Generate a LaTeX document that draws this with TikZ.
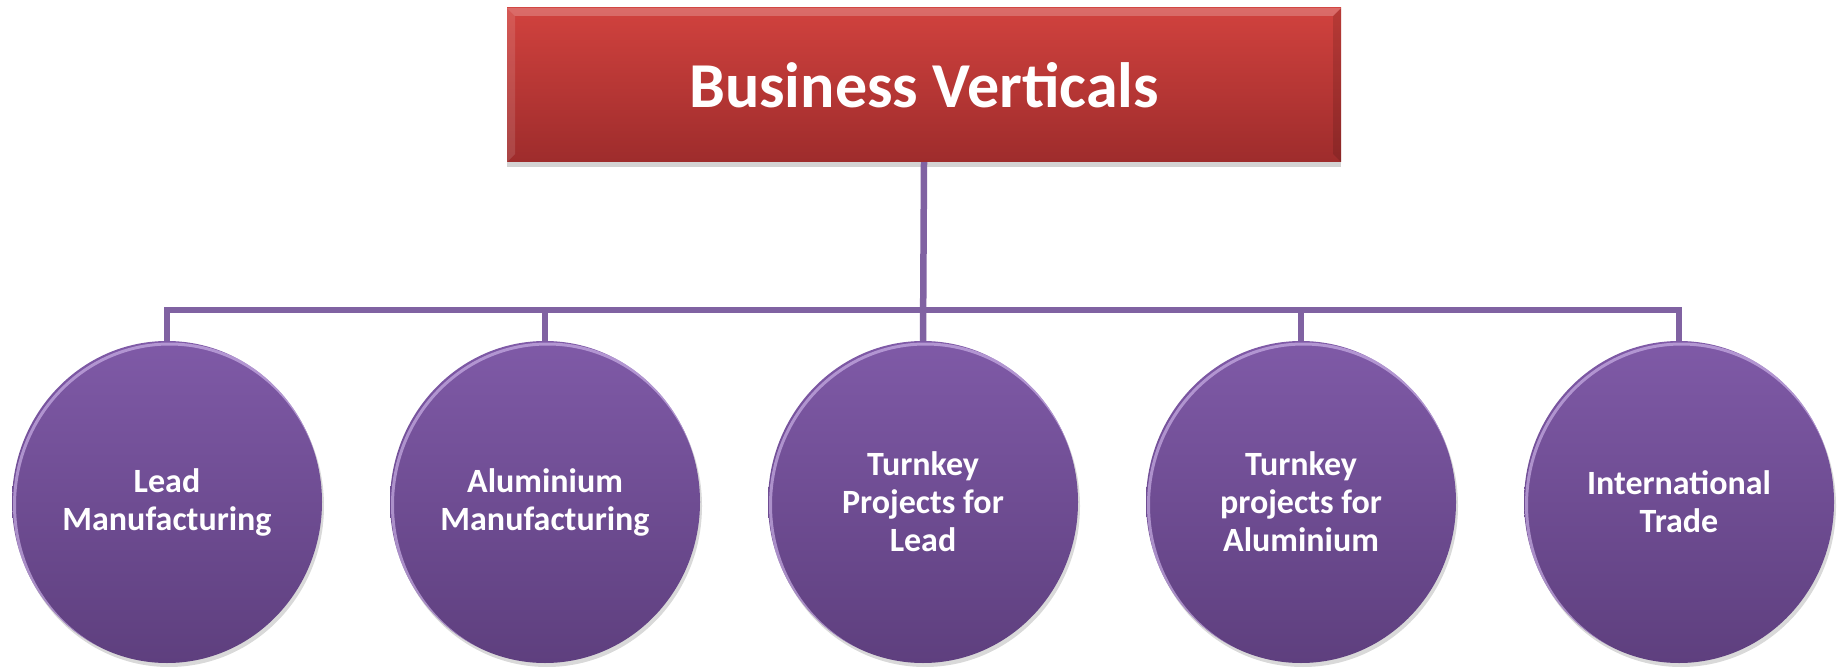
\documentclass[tikz,border=0pt]{standalone}
\usepackage{fontspec}
\setmainfont{Carlito}
\usetikzlibrary{shadows,shapes.geometric}
\definecolor{redtop}{RGB}{209,66,62}
\definecolor{redbot}{RGB}{158,44,44}
\definecolor{purtop}{RGB}{127,90,167}
\definecolor{purbot}{RGB}{94,63,126}
\definecolor{linecol}{RGB}{128,98,162}
\definecolor{lav}{RGB}{214,190,240}
\begin{document}
\begin{tikzpicture}[x=1pt,y=-1pt,
  headbox/.style={rectangle, minimum width=834pt, minimum height=154pt, inner sep=0pt,
    top color=redtop, bottom color=redbot, text=white,
    font=\fontsize{64}{70}\selectfont\bfseries,
    drop shadow={shadow xshift=0pt, shadow yshift=-5pt, opacity=0.35},
    path picture={
      \fill[white, opacity=0.22] (path picture bounding box.north west) -- (path picture bounding box.north east)
        -- ([xshift=-8pt,yshift=-8pt]path picture bounding box.north east) -- ([xshift=8pt,yshift=-8pt]path picture bounding box.north west) -- cycle;
      \fill[white, opacity=0.12] (path picture bounding box.north west) -- ([xshift=8pt,yshift=-8pt]path picture bounding box.north west)
        -- ([xshift=8pt,yshift=8pt]path picture bounding box.south west) -- (path picture bounding box.south west) -- cycle;
      \fill[black, opacity=0.12] (path picture bounding box.north east) -- ([xshift=-8pt,yshift=-8pt]path picture bounding box.north east)
        -- ([xshift=-8pt,yshift=8pt]path picture bounding box.south east) -- (path picture bounding box.south east) -- cycle;
    }},
  vert/.style={ellipse, minimum width=310pt, minimum height=322pt, inner sep=0pt,
    top color=purtop, bottom color=purbot, text=white, align=center,
    font=\fontsize{34}{38}\selectfont\bfseries,
    drop shadow={shadow xshift=2pt, shadow yshift=-4pt, opacity=0.3},
    path picture={
      \draw[lav, line width=3pt, opacity=0.6] ([xshift=2.5pt,yshift=-3pt]path picture bounding box.center) ellipse [x radius=155pt, y radius=161pt];
    }},
  conn/.style={draw=linecol, line width=6.5pt}
]
\useasboundingbox (0,0) rectangle (1841,671);

\node[headbox] (head) at (924,85) {Business Verticals};

\node[vert] (c1) at (167,502) {Lead\\Manufacturing};
\node[vert] (c2) at (545,502) {Aluminium\\Manufacturing};
\node[vert] (c3) at (923,502) {Turnkey\\Projects for\\Lead};
\node[vert] (c4) at (1301,502) {Turnkey\\projects for\\Aluminium};
\node[vert] (c5) at (1679,502) {International\\Trade};

\coordinate (bar) at (923,310);

\draw[conn] (head.south) -- (c3.north);
\draw[conn] (c1.north) -- (c1.north |- bar) -- (c5.north |- bar) -- (c5.north);
\draw[conn] (c2.north) -- (c2.north |- bar);
\draw[conn] (c4.north) -- (c4.north |- bar);
\end{tikzpicture}
\end{document}
